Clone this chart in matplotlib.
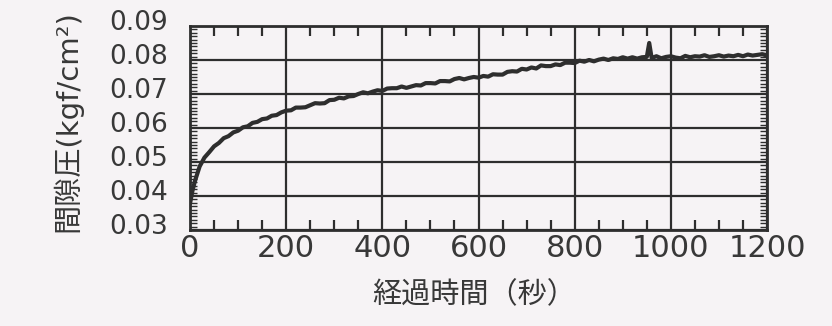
import matplotlib
matplotlib.use("Agg")
import matplotlib.pyplot as plt
import matplotlib.transforms as mtransforms
from matplotlib.ticker import MultipleLocator, FormatStrFormatter

plt.rcParams["font.family"] = ["DejaVu Sans", "Noto Sans CJK JP"]

# elapsed time (s) and measured pore pressure (kgf/cm^2)
elapsed_s = [
    0, 5, 10, 20, 30, 40, 50, 60, 70, 80, 90,
    100, 110, 120, 130, 140, 150, 160, 170, 180, 190,
    200, 210, 220, 230, 240, 250, 260, 270, 280, 290,
    300, 310, 320, 330, 340, 350, 360, 370, 380, 390,
    400, 410, 420, 430, 440, 450, 460, 470, 480, 490,
    500, 510, 520, 530, 540, 550, 560, 570, 580, 590,
    600, 610, 620, 630, 640, 650, 660, 670, 680, 690,
    700, 710, 720, 730, 740, 750, 760, 770, 780, 790,
    800, 810, 820, 830, 840, 850, 860, 870, 880, 890,
    900, 910, 920, 930, 940, 950, 955, 960, 970, 980, 990,
    1000, 1010, 1020, 1030, 1040, 1050, 1060, 1070, 1080, 1090,
    1100, 1110, 1120, 1130, 1140, 1150, 1160, 1170, 1180, 1190, 1200,
]
pore_pressure = [
    0.0378, 0.0415, 0.0443, 0.0487, 0.0513, 0.0529, 0.0546, 0.0556, 0.0570, 0.0576, 0.0587,
    0.0592, 0.0602, 0.0605, 0.0615, 0.0618, 0.0626, 0.0628, 0.0636, 0.0638, 0.0646,
    0.0651, 0.0652, 0.0660, 0.0660, 0.0661, 0.0667, 0.0673, 0.0672, 0.0673, 0.0682,
    0.0683, 0.0689, 0.0687, 0.0693, 0.0694, 0.0700, 0.0705, 0.0702, 0.0707, 0.0711,
    0.0709, 0.0716, 0.0717, 0.0717, 0.0722, 0.0718, 0.0722, 0.0726, 0.0725, 0.0732,
    0.0732, 0.0731, 0.0738, 0.0738, 0.0737, 0.0744, 0.0747, 0.0743, 0.0747, 0.0750,
    0.0748, 0.0753, 0.0751, 0.0758, 0.0757, 0.0757, 0.0765, 0.0767, 0.0766, 0.0774,
    0.0772, 0.0778, 0.0775, 0.0784, 0.0782, 0.0782, 0.0787, 0.0785, 0.0792, 0.0792,
    0.0791, 0.0798, 0.0795, 0.0800, 0.0796, 0.0801, 0.0804, 0.0800, 0.0805, 0.0803,
    0.0808, 0.0804, 0.0808, 0.0804, 0.0808, 0.0809, 0.0850, 0.0806, 0.0811, 0.0805, 0.0809,
    0.0811, 0.0807, 0.0805, 0.0812, 0.0808, 0.0811, 0.0810, 0.0814, 0.0809, 0.0811,
    0.0814, 0.0810, 0.0813, 0.0811, 0.0815, 0.0811, 0.0816, 0.0813, 0.0815, 0.0817, 0.0813,
]

x_ticks = [0, 200, 400, 600, 800, 1000, 1200]
y_ticks = [0.03, 0.04, 0.05, 0.06, 0.07, 0.08, 0.09]
x_label = "経過時間（秒）"
y_label = "間隙圧(kgf/cm²)"

paper = "#f6f3f5"
ink = "#2e2e2e"
text_ink = "#383838"

fig = plt.figure(figsize=(8.32, 3.26), dpi=100, facecolor=paper)
ax = fig.add_axes([0.2284, 0.2945, 0.6935, 0.6258], facecolor=paper)

ax.plot(elapsed_s, pore_pressure, color=ink, lw=3.0,
        solid_joinstyle="round", solid_capstyle="round", zorder=3)

ax.set_xlim(x_ticks[0], x_ticks[-1])
ax.set_ylim(y_ticks[0], y_ticks[-1])
ax.set_xticks(x_ticks)
ax.set_yticks(y_ticks)
ax.xaxis.set_minor_locator(MultipleLocator(50))
ax.yaxis.set_minor_locator(MultipleLocator(0.001))
ax.yaxis.set_major_formatter(FormatStrFormatter("%.2f"))

ax.grid(which="major", color=ink, lw=1.6, zorder=1)
ax.set_axisbelow(True)
for sp in ax.spines.values():
    sp.set_linewidth(2.0)
    sp.set_color(ink)

ax.tick_params(which="both", direction="in", top=True, right=True, colors=ink)
ax.tick_params(which="major", length=0)
ax.tick_params(axis="x", which="minor", length=7, width=1.6)
ax.tick_params(axis="y", which="minor", length=5, width=1.0)
ax.tick_params(axis="x", which="major", labelsize=22, pad=3, labelcolor=text_ink)
ax.tick_params(axis="y", which="major", labelsize=19, pad=16, labelcolor=text_ink)

# tick numbers sit slightly above their grid lines
lift = mtransforms.ScaledTranslation(0, 6 / 100, fig.dpi_scale_trans)
for lbl in ax.get_yticklabels():
    lbl.set_transform(lbl.get_transform() + lift)

ax.set_xlabel(x_label, fontsize=21, color=text_ink, family=["Noto Sans CJK JP"])
ax.xaxis.set_label_coords(0.493, -0.319)
ax.xaxis.label.set_va("center")

ax.set_ylabel(y_label, fontsize=21, color=text_ink)
ax.yaxis.set_label_coords(-0.213, 0.535)
ax.yaxis.label.set_va("center")
ax.yaxis.label.set_ha("center")

fig.savefig("out.png", dpi=100, facecolor=paper)
